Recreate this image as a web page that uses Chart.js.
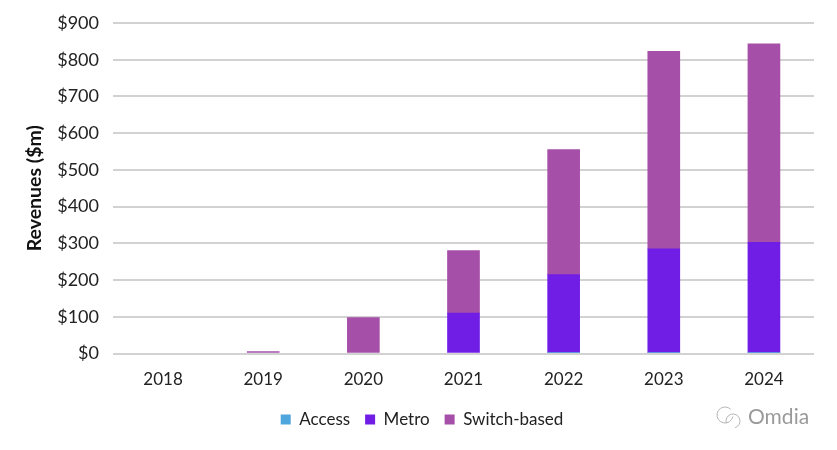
<!DOCTYPE html>
<html>
<head>
<meta charset="utf-8">
<title>Revenues</title>
<script src="https://cdn.jsdelivr.net/npm/chart.js@4/dist/chart.umd.min.js"></script>
<style>
    html, body { margin: 0; padding: 0; background: #fff; }
    #wrap { width: 837px; height: 450px; position: relative; }
</style>
</head>
<body>
<div id="wrap"><canvas id="revenueChart"></canvas></div>
<script>
const years = ['2018', '2019', '2020', '2021', '2022', '2023', '2024'];
const access = [null, null, null, null, 3, 3, 3];
const metro = [null, null, null, 110, 212, 282, 300];
const switchBased = [null, 5, 98, 170, 340, 538, 540];
const yTicks = [0, 100, 200, 300, 400, 500, 600, 700, 800, 900];

const FONT = 'Lato, "Open Sans", sans-serif';

// Omdia watermark bottom right
const watermark = {
    id: 'watermark',
    afterDraw(chart) {
        const c = chart.ctx;
        c.save();
        c.strokeStyle = '#b4b4b4';
        c.lineWidth = 1;
        c.beginPath();
        c.arc(725, 415, 8, 0.2, Math.PI * 1.75);
        c.stroke();
        c.beginPath();
        c.arc(733, 421, 7, Math.PI * 0.9, Math.PI * 2.4);
        c.stroke();
        c.fillStyle = '#9a9a9a';
        c.font = '21px ' + FONT;
        c.textBaseline = 'middle';
        c.fillText('Omdia', 748, 417);
        c.restore();
    }
};

new Chart(document.getElementById('revenueChart'), {
    type: 'bar',
    data: {
        labels: years,
        datasets: [
            { label: 'Access', data: access, backgroundColor: '#4ea6dc', borderWidth: 0 },
            { label: 'Metro', data: metro, backgroundColor: '#701ee6', borderWidth: 0 },
            { label: 'Switch-based', data: switchBased, backgroundColor: '#a64fa8', borderWidth: 0 }
        ]
    },
    options: {
        responsive: true,
        maintainAspectRatio: false,
        animation: false,
        layout: { padding: { top: 23, right: 23, bottom: 12, left: 30 } },
        datasets: { bar: { barThickness: 32 } },
        plugins: {
            tooltip: { enabled: false },
            legend: {
                position: 'bottom',
                labels: {
                    color: '#222',
                    font: { family: FONT, size: 17 },
                    boxWidth: 10,
                    boxHeight: 10,
                    padding: 15
                }
            }
        },
        scales: {
            x: {
                stacked: true,
                grid: { display: false },
                border: { display: false },
                ticks: { color: '#222', font: { family: FONT, size: 17 }, padding: 8, maxRotation: 0 },
                afterFit(axis) { axis.height = 42.5; }
            },
            y: {
                stacked: true,
                min: 0,
                max: 900,
                afterBuildTicks(axis) { axis.ticks = yTicks.map(v => ({ value: v })); },
                grid: { color: '#d2d2d2', lineWidth: 2, drawTicks: false },
                border: { display: false },
                ticks: {
                    color: '#222',
                    font: { family: FONT, size: 18 },
                    padding: 14,
                    callback: v => '$' + v
                },
                title: {
                    display: true,
                    text: 'Revenues ($m)',
                    color: '#111',
                    font: { family: FONT, size: 19.5, weight: 'bold' },
                    padding: { top: -7, bottom: 0 }
                },
                afterFit(axis) {
                    axis.width = 83;
                    axis.paddingTop = 0; // the tick padding would otherwise push the top gridline down
                }
            }
        }
    },
    plugins: [watermark]
});
</script>
</body>
</html>
